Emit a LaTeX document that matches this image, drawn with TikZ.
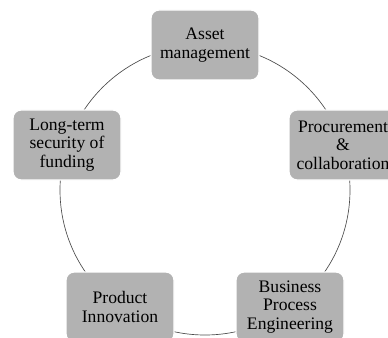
\documentclass[tikz,border=0pt]{standalone}
\usepackage{fontspec}
\setmainfont{Liberation Serif}
\usepackage{tikz}
\usetikzlibrary{positioning, calc}

\begin{document}
\begin{tikzpicture}[x=0.75pt, y=-0.75pt,
  box/.style={draw=white, line width=1pt, fill=black!30, rounded corners=6pt,
    minimum width=81pt, minimum height=52.5pt, align=center, inner sep=1pt,
    font=\fontsize{13.2}{13.8}\selectfont}]
% Page frame
\useasboundingbox (0,0) rectangle (388,338);
\clip (0,0) rectangle (388,338);
% Ring centre
\coordinate (C) at (205,190);
\draw[black!70, line width=0.5pt] (C) circle (145);
% Boxes around the ring
\node[box] (asset) at (205,45) {Asset\\management};
\node[box] (procure) at (343,145) {Procurement\\\&\\collaboration};
\node[box] (business) at (290,307) {Business\\Process\\Engineering};
\node[box] (product) at (120,307) {Product\\Innovation};
\node[box] (funding) at (67,145) {Long-term\\security of\\funding};
\end{tikzpicture}
\end{document}
